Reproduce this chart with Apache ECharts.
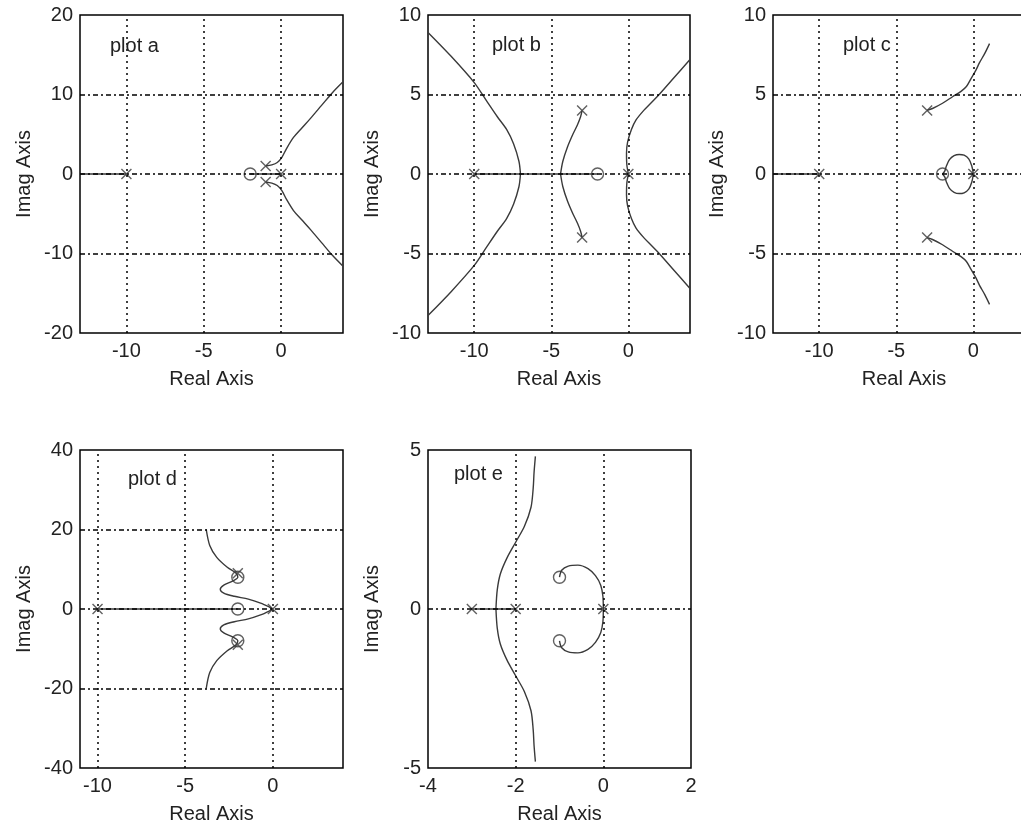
<!DOCTYPE html>
<html>
<head>
<meta charset="utf-8">
<script src="https://cdn.jsdelivr.net/npm/echarts@6/dist/echarts.min.js"></script>
<style>
  html, body { margin: 0; padding: 0; background: #fff; }
  #chart { width: 1021px; height: 827px; }
</style>
</head>
<body>
<div id="chart"></div>
<script>
// ---- plot a ----
const aXTicks = [-10, -5, 0];
const aYTicks = [-20, -10, 0, 10, 20];
const aPoles = [[-10, 0], [0, 0], [-1, 1], [-1, -1]];
const aZeros = [[-2, 0]];
const aRealLeft = [[-13, 0], [-10, 0]];
const aRealRight = [[-2, 0], [0, 0]];
const aUpper = [[-1, 1], [-0.6, 1.15], [-0.25, 1.45], [0.05, 2.1], [0.35, 3.2], [0.8, 4.6], [1.3, 5.7], [1.9, 7.0], [2.6, 8.6], [3.3, 10.2], [4, 11.6]];
const aLower = [[-1, -1], [-0.6, -1.15], [-0.25, -1.45], [0.05, -2.1], [0.35, -3.2], [0.8, -4.6], [1.3, -5.7], [1.9, -7.0], [2.6, -8.6], [3.3, -10.2], [4, -11.6]];

// ---- plot b ----
const bXTicks = [-10, -5, 0];
const bYTicks = [-10, -5, 0, 5, 10];
const bPoles = [[-10, 0], [0, 0], [-3, 4], [-3, -4]];
const bZeros = [[-2, 0]];
const bReal = [[-10, 0], [-2, 0]];
const bLeftUp = [[-7.0, 0], [-7.1, 0.8], [-7.45, 1.9], [-7.9, 2.8], [-8.5, 3.6], [-9.2, 4.6], [-10, 5.75], [-11.5, 7.4], [-13, 8.9]];
const bLeftDown = [[-7.0, 0], [-7.1, -0.8], [-7.45, -1.9], [-7.9, -2.8], [-8.5, -3.6], [-9.2, -4.6], [-10, -5.75], [-11.5, -7.4], [-13, -8.9]];
const bMidUp = [[-4.4, 0], [-4.25, 0.8], [-3.95, 1.7], [-3.6, 2.5], [-3.3, 3.1], [-3.1, 3.6], [-3, 4]];
const bMidDown = [[-4.4, 0], [-4.25, -0.8], [-3.95, -1.7], [-3.6, -2.5], [-3.3, -3.1], [-3.1, -3.6], [-3, -4]];
const bRightUp = [[0, 0], [-0.1, 0.6], [-0.12, 1.3], [-0.05, 2.0], [0.2, 2.8], [0.5, 3.4], [1.0, 4.0], [1.5, 4.5], [2.0, 5.0], [3.0, 6.1], [4, 7.2]];
const bRightDown = [[0, 0], [-0.1, -0.6], [-0.12, -1.3], [-0.05, -2.0], [0.2, -2.8], [0.5, -3.4], [1.0, -4.0], [1.5, -4.5], [2.0, -5.0], [3.0, -6.1], [4, -7.2]];

// ---- plot c ----
const cXTicks = [-10, -5, 0];
const cYTicks = [-10, -5, 0, 5, 10];
const cPoles = [[-10, 0], [0, 0], [-3, 4], [-3, -4]];
const cZeros = [[-2, 0]];
const cReal = [[-13, 0], [-10, 0]];
const cLoopUp = [[0, 0], [-0.1, 0.5], [-0.3, 0.95], [-0.6, 1.18], [-0.92, 1.23], [-1.25, 1.15], [-1.55, 0.9], [-1.75, 0.5], [-1.85, 0.2], [-2, 0]];
const cLoopDown = [[0, 0], [-0.1, -0.5], [-0.3, -0.95], [-0.6, -1.18], [-0.92, -1.23], [-1.25, -1.15], [-1.55, -0.9], [-1.75, -0.5], [-1.85, -0.2], [-2, 0]];
const cUpper = [[-3, 4], [-2.65, 4.12], [-2, 4.45], [-1.35, 4.86], [-0.8, 5.2], [-0.45, 5.5], [-0.15, 6.0], [0.15, 6.5], [0.4, 7.0], [0.75, 7.6], [1.05, 8.2]];
const cLower = [[-3, -4], [-2.65, -4.12], [-2, -4.45], [-1.35, -4.86], [-0.8, -5.2], [-0.45, -5.5], [-0.15, -6.0], [0.15, -6.5], [0.4, -7.0], [0.75, -7.6], [1.05, -8.2]];

// ---- plot d ----
const dXTicks = [-10, -5, 0];
const dYTicks = [-40, -20, 0, 20, 40];
const dPoles = [[-10, 0], [0, 0], [-2, 9], [-2, -9]];
const dZeros = [[-2, 0], [-2, 8], [-2, -8]];
const dReal = [[-10, 0], [-2, 0]];
const dUpper = [[0, 0], [-0.2, 0.5], [-0.7, 1.5], [-1.4, 2.5], [-2.2, 3.2], [-2.8, 4], [-3.0, 5], [-2.8, 6], [-2.3, 7], [-2.0, 8], [-2.1, 9], [-2.6, 10.5], [-3.2, 13], [-3.6, 16], [-3.8, 20]];
const dLower = [[0, 0], [-0.2, -0.5], [-0.7, -1.5], [-1.4, -2.5], [-2.2, -3.2], [-2.8, -4], [-3.0, -5], [-2.8, -6], [-2.3, -7], [-2.0, -8], [-2.1, -9], [-2.6, -10.5], [-3.2, -13], [-3.6, -16], [-3.8, -20]];

// ---- plot e ----
const eXTicks = [-4, -2, 0, 2];
const eYTicks = [-5, 0, 5];
const ePoles = [[-3, 0], [-2, 0], [0, 0]];
const eZeros = [[-1, 1], [-1, -1]];
const eReal = [[-3, 0], [-2, 0]];
const eLeftUp = [[-2.45, 0], [-2.42, 0.6], [-2.35, 1.1], [-2.2, 1.6], [-2.0, 2.1], [-1.8, 2.6], [-1.65, 3.2], [-1.6, 3.8], [-1.58, 4.3], [-1.55, 4.8]];
const eLeftDown = [[-2.45, 0], [-2.42, -0.6], [-2.35, -1.1], [-2.2, -1.6], [-2.0, -2.1], [-1.8, -2.6], [-1.65, -3.2], [-1.6, -3.8], [-1.58, -4.3], [-1.55, -4.8]];
const eLoopUp = [[0, 0], [-0.01, 0.4], [-0.06, 0.75], [-0.18, 1.05], [-0.35, 1.27], [-0.58, 1.38], [-0.8, 1.35], [-0.95, 1.22], [-1, 1]];
const eLoopDown = [[0, 0], [-0.01, -0.4], [-0.06, -0.75], [-0.18, -1.05], [-0.35, -1.27], [-0.58, -1.38], [-0.8, -1.35], [-0.95, -1.22], [-1, -1]];

const plots = [
  { name: 'plot a', box: [80, 15, 263, 318], x: [-13, 4], y: [-20, 20], xt: aXTicks, yt: aYTicks,
    real: [aRealLeft, aRealRight], branches: [aUpper, aLower], poles: aPoles, zeros: aZeros, label: [110, 36] },
  { name: 'plot b', box: [428, 15, 262, 318], x: [-13, 4], y: [-10, 10], xt: bXTicks, yt: bYTicks,
    real: [bReal], branches: [bLeftUp, bLeftDown, bMidUp, bMidDown, bRightUp, bRightDown], poles: bPoles, zeros: bZeros, label: [492, 35] },
  { name: 'plot c', box: [773, 15, 262, 318], x: [-13, 4], y: [-10, 10], xt: cXTicks, yt: cYTicks,
    real: [cReal], branches: [cLoopUp, cLoopDown, cUpper, cLower], poles: cPoles, zeros: cZeros, label: [843, 35] },
  { name: 'plot d', box: [80, 450, 263, 318], x: [-11, 4], y: [-40, 40], xt: dXTicks, yt: dYTicks,
    real: [dReal], branches: [dUpper, dLower], poles: dPoles, zeros: dZeros, label: [128, 469] },
  { name: 'plot e', box: [428, 450, 263, 318], x: [-4, 2], y: [-5, 5], xt: eXTicks, yt: eYTicks,
    real: [eReal], branches: [eLeftUp, eLeftDown, eLoopUp, eLoopDown], poles: ePoles, zeros: eZeros, label: [454, 464] }
];

const FONT = 'Liberation Sans';
const LINE = '#3a3a3a';
const crossPath = 'path://M0,0L10,10M10,0L0,10';

const option = { animation: false, grid: [], xAxis: [], yAxis: [], series: [], title: [] };

plots.forEach((p, i) => {
  option.grid.push({
    left: p.box[0], top: p.box[1], width: p.box[2], height: p.box[3],
    outerBoundsMode: 'none', containLabel: false,
    show: true, borderColor: '#000', borderWidth: 1.5, backgroundColor: 'transparent'
  });
  const label = { fontSize: 20, color: '#222', fontFamily: FONT };
  option.xAxis.push({
    type: 'value', gridIndex: i, min: p.x[0], max: p.x[1],
    axisLine: { show: false }, axisTick: { show: false }, splitLine: { show: false },
    axisLabel: Object.assign({}, label, { customValues: p.xt, margin: 8 }),
    name: 'Real Axis', nameLocation: 'middle', nameGap: 36,
    nameTextStyle: { fontSize: 20, color: '#222', fontFamily: FONT }
  });
  option.yAxis.push({
    type: 'value', gridIndex: i, min: p.y[0], max: p.y[1],
    axisLine: { show: false }, axisTick: { show: false }, splitLine: { show: false },
    axisLabel: Object.assign({}, label, { customValues: p.yt, margin: 7 }),
    name: 'Imag Axis', nameLocation: 'middle', nameGap: 46, nameRotate: 90,
    nameTextStyle: { fontSize: 20, color: '#222', fontFamily: FONT }
  });
  option.title.push({
    text: p.name, left: p.label[0], top: p.label[1], padding: 0,
    textStyle: { fontSize: 20, fontWeight: 'normal', color: '#222', fontFamily: FONT }
  });

  // dotted grid lines at interior ticks
  const gridLines = [];
  p.xt.filter(v => v > p.x[0] && v < p.x[1]).forEach(v =>
    gridLines.push({ xAxis: v, lineStyle: { type: [2, 4], color: '#000', width: 1.5 } }));
  p.yt.filter(v => v > p.y[0] && v < p.y[1]).forEach(v =>
    gridLines.push({ yAxis: v, lineStyle: { type: [5, 3, 2, 3], color: '#000', width: 1.5 } }));

  p.real.forEach((seg, k) => {
    const s = {
      type: 'line', xAxisIndex: i, yAxisIndex: i, data: seg, showSymbol: false, z: 2,
      lineStyle: { color: LINE, width: 1.5 }
    };
    if (k === 0) {
      s.markLine = { silent: true, symbol: 'none', label: { show: false }, data: gridLines, animation: false };
    }
    option.series.push(s);
  });
  p.branches.forEach(br => option.series.push({
    type: 'line', xAxisIndex: i, yAxisIndex: i, data: br, showSymbol: false, smooth: 0.3, z: 3,
    lineStyle: { color: LINE, width: 1.4 }
  }));
  option.series.push({
    type: 'scatter', xAxisIndex: i, yAxisIndex: i, data: p.poles, symbol: crossPath, symbolSize: 10, z: 4,
    itemStyle: { color: 'none', borderColor: LINE, borderWidth: 1.4 }
  });
  option.series.push({
    type: 'scatter', xAxisIndex: i, yAxisIndex: i, data: p.zeros, symbol: 'circle', symbolSize: 12, z: 4,
    itemStyle: { color: 'rgba(0,0,0,0)', borderColor: LINE, borderWidth: 1.4 }
  });
});

const chart = echarts.init(document.getElementById('chart'));
chart.setOption(option);
</script>
</body>
</html>
